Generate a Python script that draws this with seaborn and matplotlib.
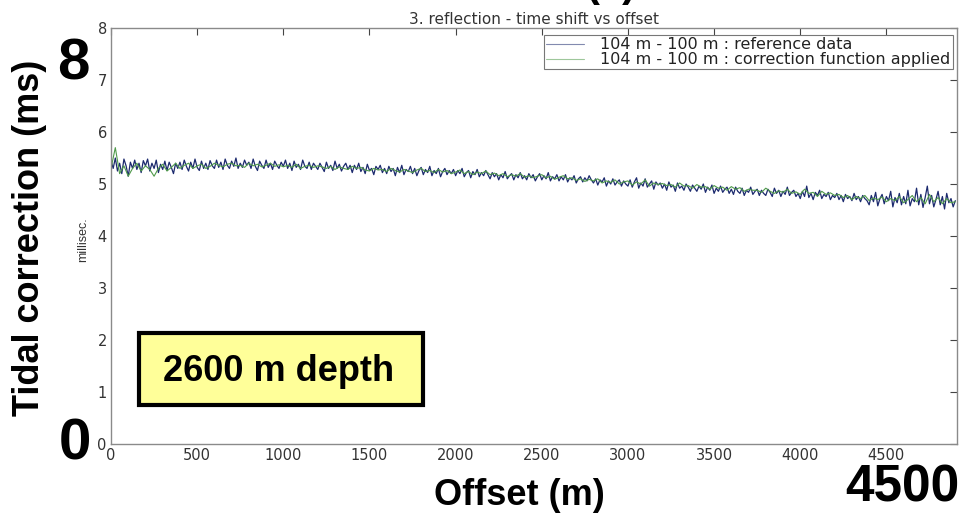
import numpy as np
import pandas as pd
import matplotlib
matplotlib.use("Agg")
import matplotlib.pyplot as plt
import seaborn as sns
from matplotlib.patches import FancyBboxPatch
from matplotlib.lines import Line2D

# Reference data: offsets every 12.5 m
ref_offset = [i * 12.5 for i in range(393)]
reference_ms = [
    5.45, 5.30, 5.50, 5.25, 5.40, 5.20, 5.48, 5.35, 5.15, 5.42, 5.30, 5.46, 5.28, 5.40, 5.22, 5.45,
    5.35, 5.48, 5.25, 5.40, 5.30, 5.46, 5.22, 5.38, 5.28, 5.44, 5.26, 5.42, 5.32, 5.20, 5.40, 5.30,
    5.42, 5.28, 5.46, 5.34, 5.25, 5.42, 5.30, 5.48, 5.32, 5.26, 5.44, 5.30, 5.40, 5.28, 5.45, 5.35,
    5.30, 5.46, 5.32, 5.42, 5.28, 5.48, 5.36, 5.30, 5.44, 5.34, 5.50, 5.30, 5.40, 5.32, 5.46, 5.36,
    5.42, 5.30, 5.48, 5.34, 5.26, 5.44, 5.36, 5.30, 5.46, 5.32, 5.40, 5.28, 5.44, 5.36, 5.30, 5.42,
    5.34, 5.46, 5.30, 5.40, 5.26, 5.44, 5.32, 5.38, 5.28, 5.46, 5.34, 5.30, 5.42, 5.28, 5.40, 5.34,
    5.28, 5.40, 5.32, 5.24, 5.42, 5.30, 5.36, 5.26, 5.44, 5.30, 5.38, 5.25, 5.34, 5.40, 5.28, 5.36,
    5.22, 5.36, 5.28, 5.40, 5.24, 5.32, 5.20, 5.38, 5.26, 5.30, 5.18, 5.34, 5.28, 5.36, 5.22, 5.30,
    5.20, 5.34, 5.24, 5.30, 5.16, 5.32, 5.22, 5.36, 5.18, 5.28, 5.24, 5.34, 5.20, 5.30, 5.16, 5.26,
    5.32, 5.18, 5.28, 5.22, 5.34, 5.16, 5.26, 5.20, 5.30, 5.14, 5.24, 5.30, 5.18, 5.26, 5.20, 5.28,
    5.16, 5.26, 5.20, 5.30, 5.14, 5.22, 5.26, 5.12, 5.24, 5.18, 5.28, 5.14, 5.22, 5.16, 5.26, 5.18,
    5.10, 5.22, 5.14, 5.20, 5.08, 5.18, 5.12, 5.24, 5.10, 5.16, 5.20, 5.08, 5.18, 5.12, 5.22, 5.10,
    5.16, 5.08, 5.20, 5.12, 5.18, 5.06, 5.14, 5.20, 5.08, 5.16, 5.10, 5.22, 5.06, 5.14, 5.10, 5.18,
    5.06, 5.14, 5.08, 5.18, 5.04, 5.12, 5.08, 5.16, 5.02, 5.10, 5.14, 5.04, 5.12, 5.06, 5.16, 5.08,
    5.02, 5.10, 4.98, 5.08, 5.04, 5.12, 4.96, 5.06, 5.00, 5.10, 4.98, 5.04, 5.08, 4.96, 5.06, 5.00,
    4.96, 5.08, 4.94, 5.04, 5.12, 4.92, 5.02, 4.96, 5.10, 4.94, 5.00, 5.06, 4.90, 5.04, 4.98, 5.02,
    4.92, 5.00, 4.88, 5.04, 4.94, 4.98, 4.86, 5.02, 4.92, 4.96, 4.88, 5.00, 4.94, 4.86, 4.98, 4.92,
    4.86, 4.96, 4.90, 5.00, 4.84, 4.94, 4.88, 4.98, 4.82, 4.92, 4.86, 4.96, 4.84, 4.90, 4.94, 4.82,
    4.90, 4.80, 4.94, 4.86, 4.82, 4.92, 4.78, 4.88, 4.84, 4.94, 4.80, 4.86, 4.90, 4.78, 4.88, 4.82,
    4.78, 4.90, 4.84, 4.76, 4.92, 4.82, 4.88, 4.76, 4.86, 4.80, 4.94, 4.78, 4.84, 4.88, 4.76, 4.82,
    4.72, 4.86, 4.76, 4.96, 4.74, 4.82, 4.70, 4.84, 4.78, 4.88, 4.72, 4.80, 4.76, 4.84, 4.70, 4.78,
    4.74, 4.82, 4.70, 4.78, 4.66, 4.80, 4.72, 4.76, 4.68, 4.82, 4.70, 4.76, 4.66, 4.78, 4.72, 4.68,
    4.60, 4.78, 4.66, 4.84, 4.58, 4.72, 4.80, 4.62, 4.76, 4.68, 4.86, 4.56, 4.74, 4.64, 4.82, 4.60,
    4.76, 4.62, 4.88, 4.58, 4.72, 4.66, 4.92, 4.60, 4.80, 4.55, 4.74, 4.96, 4.62, 4.78, 4.56, 4.70,
    4.86, 4.60, 4.76, 4.52, 4.82, 4.64, 4.72, 4.56, 4.68,
]

# Corrected data: offsets every 25 m
cor_offset = list(range(0, 4901, 25))
corrected_ms = [
    5.30, 5.70, 5.20, 5.35, 5.15, 5.30, 5.40, 5.25, 5.35, 5.28,
    5.15, 5.30, 5.38, 5.25, 5.32, 5.40, 5.30, 5.36, 5.40, 5.30,
    5.35, 5.38, 5.30, 5.34, 5.40, 5.36, 5.33, 5.38, 5.40, 5.35,
    5.36, 5.32, 5.40, 5.35, 5.38, 5.33, 5.36, 5.40, 5.34, 5.37,
    5.33, 5.36, 5.32, 5.38, 5.30, 5.34, 5.36, 5.32, 5.35, 5.33,
    5.30, 5.34, 5.28, 5.33, 5.30, 5.28, 5.34, 5.30, 5.32, 5.27,
    5.25, 5.30, 5.27, 5.28, 5.24, 5.30, 5.26, 5.23, 5.28, 5.25,
    5.22, 5.27, 5.30, 5.24, 5.26, 5.22, 5.28, 5.23, 5.26, 5.20,
    5.23, 5.27, 5.20, 5.24, 5.18, 5.23, 5.20, 5.25, 5.18, 5.21,
    5.16, 5.20, 5.14, 5.18, 5.15, 5.20, 5.13, 5.16, 5.12, 5.15,
    5.18, 5.12, 5.15, 5.09, 5.13, 5.16, 5.10, 5.12, 5.07, 5.10,
    5.05, 5.09, 5.06, 5.10, 5.02, 5.06, 5.03, 5.08, 5.00, 5.04,
    5.06, 4.98, 5.04, 5.00, 5.08, 4.96, 5.02, 4.99, 5.01, 4.97,
    4.99, 4.94, 5.02, 4.96, 4.97, 4.92, 4.99, 4.94, 4.95, 4.90,
    4.97, 4.92, 4.94, 4.88, 4.95, 4.90, 4.93, 4.86, 4.90, 4.88,
    4.88, 4.84, 4.92, 4.86, 4.82, 4.87, 4.84, 4.90, 4.82, 4.85,
    4.80, 4.90, 4.82, 4.84, 4.76, 4.86, 4.80, 4.83, 4.78, 4.80,
    4.74, 4.78, 4.70, 4.76, 4.72, 4.78, 4.68, 4.73, 4.70, 4.75,
    4.66, 4.72, 4.68, 4.76, 4.64, 4.70, 4.78, 4.66, 4.74, 4.62,
    4.80, 4.66, 4.74, 4.62, 4.72, 4.64, 4.66,
]

series_names = [
    "104 m - 100 m : reference data",
    "104 m - 100 m : correction function applied",
]
series_colors = ["#1c2a6e", "#4f9a4a"]

x_ticks = list(range(0, 4501, 500))
y_ticks = list(range(0, 9))

ref_df = pd.DataFrame({"offset": ref_offset, "ms": reference_ms})
cor_df = pd.DataFrame({"offset": cor_offset, "ms": corrected_ms})

sns.set_style("white")
plt.rcParams["font.family"] = ["DejaVu Sans"]
plt.rcParams["text.color"] = "black"

fig = plt.figure(figsize=(9.67, 5.16), dpi=100)
ax = fig.add_axes([0.1148, 0.1395, 0.8749, 0.8062])

sns.lineplot(data=ref_df, x="offset", y="ms", color=series_colors[0],
             linewidth=0.9, ax=ax)
sns.lineplot(data=cor_df, x="offset", y="ms", color=series_colors[1],
             linewidth=0.8, ax=ax)

frame_col = "#8a8a8a"
ax.set_xlim(0, 4910)
ax.set_ylim(0, 8)
ax.set_xticks(x_ticks)
ax.set_yticks(y_ticks)
ax.tick_params(direction="in", length=5, width=0.8, color="#444444",
               labelsize=10.5, labelcolor="#333333", top=True, right=True,
               pad=3)
for s in ax.spines.values():
    s.set_color(frame_col)
    s.set_linewidth(1.0)
ax.set_xlabel("")
ax.set_ylabel("")
ax.set_title("3. reflection - time shift vs offset", fontsize=11, color="#333333", pad=3)

# Legend
handles = [Line2D([], [], color=c, linewidth=0.8, alpha=0.55) for c in series_colors]
leg = ax.legend(handles, series_names, loc="upper right", bbox_to_anchor=(0.9985, 0.99),
                fontsize=11.5, frameon=True, fancybox=False, framealpha=1,
                handlelength=2.4, handletextpad=1.0, borderpad=0.12, labelspacing=0.0,
                borderaxespad=0.2)
leg.get_frame().set_edgecolor("#777777")
leg.get_frame().set_linewidth(0.8)
for t in leg.get_texts():
    t.set_color("#222222")

# Small native axis label
fig.text(0.086, 0.535, "millisec.", rotation=90, fontsize=9, color="#333333",
         ha="center", va="center", family=["Liberation Sans Narrow", "Liberation Sans"])

# Slide annotations
big = dict(fontweight="bold", color="black", family=["Liberation Sans", "DejaVu Sans"])
fig.text(0.031, 0.539, "Tidal correction (ms)", rotation=90, fontsize=26,
         ha="center", va="center", **big)
fig.text(0.0755, 1 - 80 / 516, "8", fontsize=42, ha="center", va="baseline", **big)
fig.text(0.0776, 1 - 460 / 516, "0", fontsize=42, ha="center", va="baseline", **big)
fig.text(0.9328, 1 - 502 / 516, "4500", fontsize=37, ha="center", va="baseline", **big)
fig.text(0.537, 1 - 505 / 516, "Offset (m)", fontsize=26, ha="center", va="baseline", **big)
fig.text(0.632, 1.03, "(a)", fontsize=30, ha="center", va="center", **big)

box = FancyBboxPatch((139 / 967, 1 - 405 / 516), (423 - 139) / 967, (405 - 333) / 516,
                     boxstyle="square,pad=0", transform=fig.transFigure,
                     facecolor="#ffff99", edgecolor="black", linewidth=3, zorder=5)
fig.patches.append(box)
fig.text(279 / 967, 1 - 381 / 516, "2600 m depth", fontsize=26, ha="center",
         va="baseline", zorder=6, **big)

fig.savefig("out.png", dpi=100)
